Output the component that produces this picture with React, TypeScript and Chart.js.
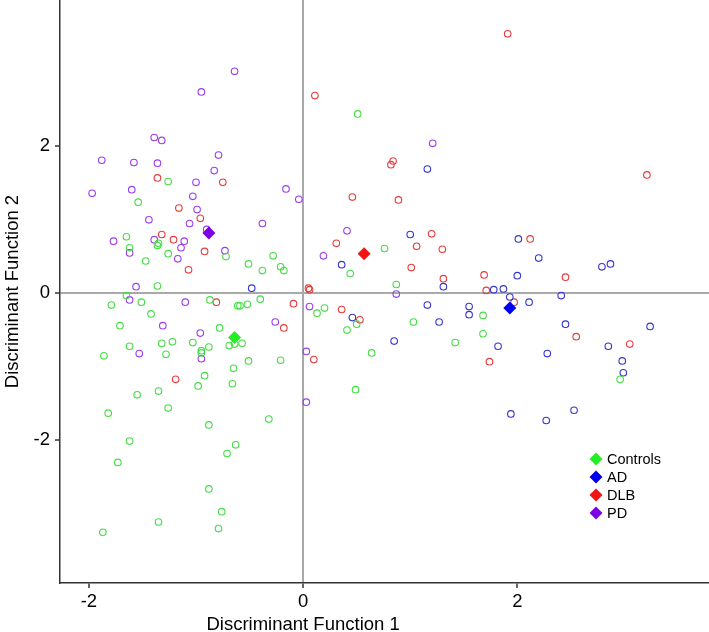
import React, { useEffect, useRef } from "react";
import { Chart, registerables } from "chart.js";

Chart.register(...registerables);

// ---- data ----
const groups = ["Controls", "AD", "DLB", "PD"];
const xTicks = [-2, 0, 2];
const yTicks = [-2, 0, 2];

const controlsX = [-1.26, -1.54, -1.65, -1.35, -1.36, -1.62, -1.26, -0.72, -1.47, -1.36, -1.65, -1.51, -0.87, -1.79, -0.61, -0.59, -0.52, -1.42, -1.71, -0.78, -1.32, -1.22, -1.03, -0.69, -0.64, -0.57, -1.62, -0.88, -0.95, -0.95, -1.28, -1.86, -0.65, -0.92, -0.66, -0.98, -1.35, -1.55, -1.82, -1.26, -0.88, -1.62, -0.63, -0.71, -1.73, -0.88, -0.76, -1.35, -0.79, -1.87, 0.76, -0.28, -0.51, -0.21, -0.18, -0.38, 0.44, 0.87, -0.40, 0.20, 0.13, 0.50, 1.03, 0.41, 1.42, -0.51, -0.21, 0.64, 0.51, 0.49, -0.32, 1.68, 1.68, 2.96];
const controlsY = [1.51, 1.23, 0.76, 0.67, 0.64, 0.61, 0.53, 0.49, 0.43, 0.09, -0.04, -0.13, -0.10, -0.17, -0.18, -0.18, -0.16, -0.29, -0.45, -0.48, -0.69, -0.67, -0.68, -0.72, -0.70, -0.69, -0.73, -0.74, -0.79, -0.82, -0.84, -0.86, -1.03, -1.13, -1.24, -1.27, -1.34, -1.39, -1.64, -1.57, -1.80, -2.02, -2.07, -2.19, -2.31, -2.67, -2.98, -3.12, -3.21, -3.26, 0.60, 0.50, 0.39, 0.35, 0.30, 0.30, 0.26, 0.11, -0.09, -0.21, -0.28, -0.43, -0.40, -0.51, -0.68, -0.93, -0.92, -0.82, 2.43, -1.32, -1.72, -0.31, -0.56, -1.18];

const adX = [1.16, 1.00, 0.36, 1.31, -0.48, 1.16, 0.46, 1.27, 0.85, 2.01, 2.20, 2.79, 2.87, 2.00, 1.78, 1.87, 1.93, 2.11, 2.41, 1.55, 1.55, 2.45, 3.24, 1.82, 2.85, 2.28, 2.98, 2.99, 1.94, 2.27, 2.53];
const adY = [1.68, 0.79, 0.38, 0.08, 0.06, -0.17, -0.34, -0.40, -0.66, 0.73, 0.47, 0.35, 0.39, 0.23, 0.04, 0.05, -0.06, -0.13, -0.04, -0.19, -0.30, -0.43, -0.46, -0.73, -0.73, -0.83, -0.93, -1.09, -1.65, -1.74, -1.60];

const dlbX = [-1.36, -0.75, -1.16, -0.96, -1.32, -1.21, -0.92, -1.07, -0.81, -1.19, 0.11, 0.84, 0.82, 0.46, 0.89, 1.20, 0.31, 1.06, 1.30, 1.01, 1.31, 0.05, 0.06, -0.09, 0.36, 0.53, -0.18, 0.10, 1.91, 3.21, 2.12, 1.69, 2.45, 1.71, 1.97, 2.55, 3.05, 1.74];
const dlbY = [1.56, 1.50, 1.15, 1.01, 0.79, 0.72, 0.56, 0.31, -0.13, -1.18, 2.68, 1.79, 1.74, 1.30, 1.26, 0.80, 0.67, 0.63, 0.59, 0.34, 0.19, 0.06, 0.04, -0.15, -0.23, -0.37, -0.48, -0.91, 3.52, 1.60, 0.73, 0.24, 0.21, 0.03, -0.13, -0.60, -0.70, -0.94];

const pdX = [-0.64, -0.95, -1.39, -1.32, -1.88, -1.58, -1.36, -0.79, -0.83, -1.00, -1.97, -1.60, -1.03, -0.99, -1.44, -1.06, -0.90, -1.77, -1.39, -1.11, -1.14, -1.62, -0.73, -1.17, -1.56, -1.62, -1.10, -1.31, -0.96, -1.53, -0.95, 1.21, -0.16, -0.04, -0.38, 0.41, 0.19, 0.87, 0.06, -0.26, 0.03, 0.03];
const pdY = [3.01, 2.73, 2.11, 2.07, 1.80, 1.77, 1.76, 1.87, 1.66, 1.50, 1.35, 1.40, 1.31, 1.13, 0.99, 0.94, 0.86, 0.70, 0.72, 0.70, 0.61, 0.54, 0.57, 0.46, 0.08, -0.10, -0.13, -0.45, -0.55, -0.83, -0.90, 2.03, 1.41, 1.27, 0.94, 0.84, 0.50, -0.02, -0.19, -0.40, -0.80, -1.49];

// group centroids (Controls, AD, DLB, PD)
const centroidX = [-0.64, 1.93, 0.57, -0.88];
const centroidY = [-0.61, -0.21, 0.53, 0.81];

const FONT = "'Liberation Sans', Arial, Helvetica, sans-serif";
const circleColors = ["#45dd45", "#3535d0", "#e63c3c", "#9a3cf0"];
const diamondColors = ["#22ee22", "#0000f0", "#f01414", "#7a00e8"];

export default function App() {
  const ref = useRef<HTMLCanvasElement>(null);

  useEffect(() => {
    document.body.style.margin = "0";
    const canvas = ref.current;
    if (!canvas) return;

    const series: number[][][] = [
      [controlsX, controlsY],
      [adX, adY],
      [dlbX, dlbY],
      [pdX, pdY],
    ];

    const datasets: any[] = [];
    groups.forEach((g, i) => {
      datasets.push({
        label: g + " centroid",
        data: [{ x: centroidX[i], y: centroidY[i] }],
        pointStyle: "rectRot",
        pointRadius: 6.5,
        pointBorderWidth: 0,
        backgroundColor: diamondColors[i],
        borderColor: diamondColors[i],
        borderWidth: 0,
      });
    });
    groups.forEach((g, i) => {
      const xs = series[i][0];
      const ys = series[i][1];
      datasets.push({
        label: g,
        data: xs.map((x, k) => ({ x, y: ys[k] })),
        pointStyle: "circle",
        pointRadius: 3.3,
        borderWidth: 1.1,
        borderColor: circleColors[i],
        backgroundColor: "rgba(0,0,0,0)",
      });
    });

    const overlay = {
      id: "overlay",
      afterDraw(chart: any) {
        const { ctx, chartArea, scales } = chart;
        ctx.save();
        ctx.fillStyle = "#000";
        ctx.font = `18.5px ${FONT}`;
        ctx.textAlign = "center";
        ctx.textBaseline = "alphabetic";
        ctx.fillText("Discriminant Function 1", scales.x.getPixelForValue(0), chart.height - 2);
        ctx.translate(18, (chartArea.top + chartArea.bottom) / 2);
        ctx.rotate(-Math.PI / 2);
        ctx.fillText("Discriminant Function 2", 0, 0);
        ctx.restore();

        // legend
        ctx.save();
        const lx = chartArea.right - 113;
        const ly = chartArea.top + 459;
        ctx.font = `14.5px ${FONT}`;
        ctx.textAlign = "left";
        ctx.textBaseline = "middle";
        groups.forEach((g, i) => {
          const cy = ly + i * 18;
          const r = 6.5;
          ctx.fillStyle = diamondColors[i];
          ctx.beginPath();
          ctx.moveTo(lx, cy - r);
          ctx.lineTo(lx + r, cy);
          ctx.lineTo(lx, cy + r);
          ctx.lineTo(lx - r, cy);
          ctx.closePath();
          ctx.fill();
          ctx.fillStyle = "#000";
          ctx.fillText(g, lx + 11, cy + 1);
        });
        ctx.restore();
      },
    };

    const gridColor = (c: any) =>
      c.tick && c.tick.value === 0 ? "#a9a9a9" : "rgba(0,0,0,0)";

    const chart = new Chart(canvas, {
      type: "scatter",
      data: { datasets },
      options: {
        animation: false,
        responsive: false,
        devicePixelRatio: 1,
        layout: { padding: 0, autoPadding: false },
        plugins: {
          legend: { display: false },
          tooltip: { enabled: false },
          title: { display: false },
        },
        scales: {
          x: {
            type: "linear",
            min: -2.27,
            max: 3.79,
            afterBuildTicks: (s: any) => {
              s.ticks = xTicks.map((v) => ({ value: v }));
            },
            afterFit: (s: any) => {
              s.height = 49;
              s.paddingLeft = 0;
              s.paddingRight = 0;
            },
            grid: {
              color: gridColor,
              lineWidth: 2,
              tickColor: "#333",
              tickWidth: 1.5,
              tickLength: 5,
            },
            border: { display: true, color: "#333", width: 1.5 },
            ticks: {
              color: "#000",
              font: { family: FONT, size: 18.5 },
              padding: 3,
              maxRotation: 0,
            },
          },
          y: {
            type: "linear",
            min: -3.95,
            max: 3.98,
            afterBuildTicks: (s: any) => {
              s.ticks = yTicks.map((v) => ({ value: v }));
            },
            afterFit: (s: any) => {
              s.width = 60;
              s.paddingTop = 0;
              s.paddingBottom = 0;
            },
            grid: {
              color: gridColor,
              lineWidth: 2,
              tickColor: "#333",
              tickWidth: 1.5,
              tickLength: 5,
            },
            border: { display: true, color: "#333", width: 1.5 },
            ticks: {
              color: "#000",
              font: { family: FONT, size: 18.5 },
              padding: 5,
            },
          },
        },
      },
      plugins: [overlay],
    } as any);

    return () => chart.destroy();
  }, []);

  return (
    <div style={{ width: 709, height: 632, background: "#fff" }}>
      <canvas ref={ref} width={709} height={632} style={{ display: "block" }} />
    </div>
  );
}
